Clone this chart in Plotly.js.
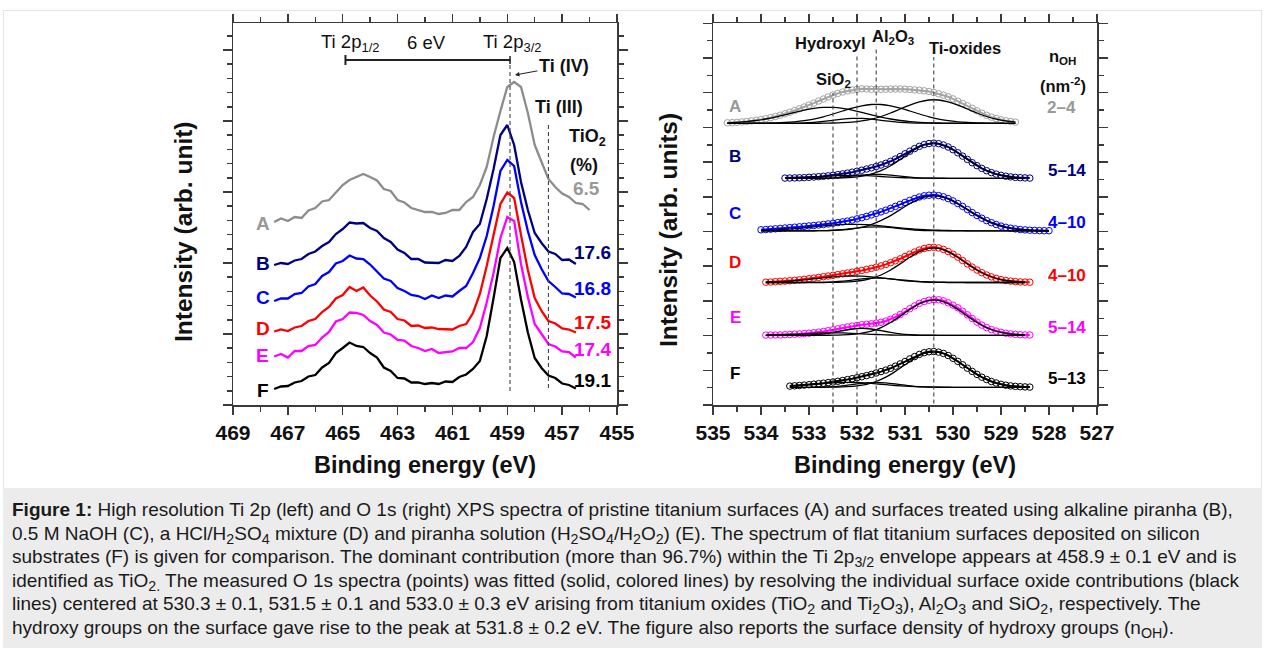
<!DOCTYPE html>
<html>
<head>
<meta charset="utf-8">
<script src="https://cdn.plot.ly/plotly-3.0.1.min.js"></script>
<style>
  html, body { margin: 0; padding: 0; background: #ffffff; }
  body { width: 1265px; height: 648px; position: relative; overflow: hidden; font-family: "Liberation Sans", Arial, Helvetica, sans-serif; }
  #frame { position: absolute; left: 3px; top: 10px; width: 1257px; height: 478px; border: 1px solid #e4e4e4; border-bottom: none; }
  #chart { position: absolute; left: 0; top: 0; width: 1265px; height: 488px; }
  #cap { position: absolute; left: 3px; top: 488px; width: 1259px; height: 160px; background: #ececec; color: #1a1a1a;
         font-size: 19px; line-height: 23.5px; padding: 10px 0 0 9px; white-space: nowrap; box-sizing: border-box; overflow: hidden; }
  #cap sub { font-size: 75%; line-height: 0; vertical-align: -0.3em; }
</style>
</head>
<body>
<div id="frame"></div>
<div id="chart"></div>
<div id="cap">
<b>Figure 1:</b> High resolution Ti 2p (left) and O 1s (right) XPS spectra of pristine titanium surfaces (A) and surfaces treated using alkaline piranha (B),<br>
0.5 M NaOH (C), a HCl/H<sub>2</sub>SO<sub>4</sub> mixture (D) and piranha solution (H<sub>2</sub>SO<sub>4</sub>/H<sub>2</sub>O<sub>2</sub>) (E). The spectrum of flat titanium surfaces deposited on silicon<br>
substrates (F) is given for comparison. The dominant contribution (more than 96.7%) within the Ti 2p<sub>3/2</sub> envelope appears at 458.9 ± 0.1 eV and is<br>
identified as TiO<sub>2.</sub> The measured O 1s spectra (points) was fitted (solid, colored lines) by resolving the individual surface oxide contributions (black<br>
lines) centered at 530.3 ± 0.1, 531.5 ± 0.1 and 533.0 ± 0.3 eV arising from titanium oxides (TiO<sub>2</sub> and Ti<sub>2</sub>O<sub>3</sub>), Al<sub>2</sub>O<sub>3</sub> and SiO<sub>2</sub>, respectively. The<br>
hydroxy groups on the surface gave rise to the peak at 531.8 ± 0.2 eV. The figure also reports the surface density of hydroxy groups (n<sub>OH</sub>).
</div>
<script>
// ---------------- DATA: Ti 2p (left panel) ----------------
const beTi = [467.5,467.25,467,466.75,466.5,466.25,466,465.75,465.5,465.25,465,464.75,464.5,464.25,464,463.75,463.5,463.25,463,462.75,462.5,462.25,462,461.75,461.5,461.25,461,460.75,460.5,460.25,460,459.75,459.5,459.25,459,458.75,458.5,458.25,458,457.75,457.5,457.25,457,456.75,456.5,456.25,456];
const tiA = [183,186.5,184,188,187,194.5,197,203.5,205,212.5,220,225,228,231,228,224.5,216,214,205,202.5,197,195,193,193,191,192,195,195,203,208,220,238,268,294,318,323,318,292,260,243,226,218,211.5,208,202,201,195];
const tiB = [140,142,141,144.5,146,151,153.5,159,163,171,176,182.5,181.5,182,177,174,167,163,155.5,152,146,146,142.5,142.5,142,145,144,149,158,173,181,206,236,270,280,260,223,195,172,162,153.5,151,145,145.5,141];
const tiC = [104,106.5,106.5,111,112,118.5,121,129,133,141.5,144,149.5,146.5,146,140.5,134,126.5,124,117,114,110,109,106,109.5,107,109.5,108.5,114,119,132,147,169,199,234,245,239,203,174,150,136,124,118,111.5,111,107.5];
const tiD = [73.5,75.5,74,77.5,79,84,86,93,98,106.5,110,118,114,117.5,109.5,103.5,95.5,93,86,84.5,79,79.5,77,77.5,76,76,75.5,79,81,92,111,139,169,201,212.5,207,170,135,107,94,84,81.5,76.5,75.5,72.5];
const tiE = [48.5,51,47.5,54,54,59,60,67.5,73,83.5,86,92.5,92,90,84,80,72.5,70.5,65,64.5,59,57,54,56,52,53,53.5,57,57,63,77,102.5,132,167,188,184,141,108,81,71,61,58.5,53.5,53,47.5];
const tiF = [16,18.5,19,22.5,24,28.5,30,37.5,42,52,57,62.5,59,58,52,47.5,37.5,34,27,26.5,22.5,22.5,21,22,21,23.5,23,28,30.5,36,44,69,107,147,157,143,105.5,72.5,47,37,29.5,27,21.5,20,16.5];
const sampleNames = ['A','B','C','D','E','F'];
const tiO2Pct = ['6.5','17.6','16.8','17.5','17.4','19.1'];

// ---------------- DATA: O 1s (right panel) ----------------
const beO = [534.7,534.6,534.5,534.4,534.3,534.2,534.1,534.0,533.9,533.8,533.7,533.6,533.5,533.4,533.3,533.2,533.1,533.0,532.9,532.8,532.7,532.6,532.5,532.4,532.3,532.2,532.1,532.0,531.9,531.8,531.7,531.6,531.5,531.4,531.3,531.2,531.1,531.0,530.9,530.8,530.7,530.6,530.5,530.4,530.3,530.2,530.1,530.0,529.9,529.8,529.7,529.6,529.5,529.4,529.3,529.2,529.1,529.0,528.9,528.8,528.7,528.6,528.5,528.4,528.3,528.2,528.1,528.0];
const startO = [534.7, 533.5, 534.0, 533.9, 533.9, 533.4];
const baselineO = [281.7, 226.7, 174.2, 122.5, 69.7, 17.7];
const nOH = ['2–4','5–14','4–10','4–10','5–14','5–13'];
// measured points (0.1 eV steps, height above each spectrum's baseline)
const oA = [0.5,0.7,1.0,1.4,1.8,2.4,3.0,3.8,4.6,5.6,6.8,8.1,9.5,11.1,12.8,14.5,16.3,18.2,20.2,22.3,24.3,26.4,28.3,29.9,31.3,32.4,33.3,33.9,34.5,34.3,34.0,34.0,34.0,34.1,34.2,34.3,34.3,34.1,33.8,33.4,33.0,32.5,31.8,30.7,29.5,28.1,26.5,24.4,22.0,19.8,17.5,15.0,12.5,10.1,8.0,6.2,4.8,3.5,2.5,1.8,1.2];
const oB = [0.2,0.3,0.4,0.5,0.7,1.0,1.3,1.6,2.0,2.5,3.0,3.7,4.4,5.2,6.1,7.1,8.1,9.3,10.5,11.8,13.3,15.0,17.0,19.3,21.8,24.5,27.1,29.7,32.0,33.7,34.8,35.2,34.6,33.3,31.3,28.6,25.5,22.2,18.9,15.6,12.6,9.9,7.6,5.7,4.2,3.0,2.1,1.4,0.9,0.6,0.4,0.2];
const oC = [1.0,1.3,1.6,2.0,2.4,2.8,3.2,3.6,4.0,4.4,4.9,5.3,5.8,6.3,6.9,7.5,8.2,8.9,9.7,10.7,11.9,13.1,14.4,15.9,17.4,18.9,20.6,22.4,24.4,26.4,28.4,30.4,32.2,33.8,35.0,35.6,35.8,35.2,34.0,32.2,29.9,27.3,24.4,21.3,18.2,15.3,12.6,10.2,8.1,6.3,4.7,3.5,2.6,1.9,1.3,0.9,0.6,0.4,0.2,0.1,0.1];
const oD = [0.3,0.5,0.8,1.1,1.4,1.8,2.2,2.7,3.2,3.8,4.4,5.1,5.8,6.5,7.2,7.9,8.7,9.5,10.3,11.2,12.1,13.1,14.1,15.3,16.6,18.1,19.8,21.7,23.7,26.0,28.3,30.5,32.5,34.0,35.0,35.2,34.6,33.1,31.0,28.3,25.3,22.0,18.6,15.4,12.5,9.8,7.5,5.6,4.1,2.9,2.0,1.4,0.9,0.6,0.4,0.3];
const oE = [0.2,0.3,0.3,0.4,0.6,0.8,1.1,1.4,1.7,2.1,2.6,3.2,3.8,4.6,5.5,6.5,7.5,8.4,9.2,9.9,10.6,11.0,11.5,12.2,13.0,14.3,16.0,18.2,20.8,23.7,26.6,29.4,31.9,33.8,35.1,35.7,35.6,34.5,32.5,30.2,27.5,24.1,20.5,16.8,13.2,10.2,7.7,5.7,4.2,3.0,2.1,1.4,0.9,0.6,0.4,0.3];
const oF = [1.2,1.5,1.8,2.2,2.6,3.1,3.6,4.1,4.7,5.3,6.0,6.8,7.7,8.6,9.6,10.6,11.7,12.9,14.3,15.7,17.2,19.0,21.1,23.4,25.8,28.4,30.7,32.9,34.6,35.5,35.8,35.2,33.9,31.8,29.0,25.9,22.5,19.1,15.9,12.9,10.1,7.8,5.8,4.3,3.0,2.1,1.4,0.9,0.6,0.4,0.2];
// fitted components (0.2 eV steps from each spectrum's start)
const aSiO2 = [0.5,1.0,1.7,2.8,4.3,6.2,8.5,10.9,13.2,14.9,15.9,15.9,14.9,13.2,10.9,8.5,6.2,4.3,2.8,1.7,1.0,0.5,0.3,0.1,0,0,0,0,0,0,0];
const aOH   = [0,0,0,0,0,0,0.1,0.2,0.4,1.0,1.9,3.0,4.2,4.9,4.9,4.2,3.0,1.9,1.0,0.4,0.2,0.1,0,0,0,0,0,0,0,0,0];
const aAl   = [0,0,0,0.1,0.2,0.4,0.8,1.5,2.6,4.2,6.5,9.3,12.3,15.2,17.5,18.8,18.8,17.5,15.2,12.3,9.3,6.5,4.2,2.6,1.5,0.8,0.4,0.2,0.1,0,0];
const aTi   = [0,0,0,0,0,0,0,0,0,0,0.1,0.3,0.6,1.2,2.4,4.2,6.8,10.3,14.3,18.2,21.4,23.3,23.3,21.4,18.2,14.3,10.3,6.8,4.2,2.4,1.2];
const bTi  = [0,0,0,0,0,0.1,0.4,0.9,2.1,4.2,7.6,12.6,18.9,25.5,31.3,34.5,34.5,31.3,25.5,18.9,12.6,7.6,4.2,2.1,0.9,0.4];
const bAl  = [0,0,0,0.1,0.2,0.5,1.2,2.2,3.2,3.9,3.9,3.2,2.2,1.2,0.5,0.2,0.1,0,0,0,0,0,0,0,0,0];
const bOH  = [0.2,0.4,0.7,1.2,1.8,2.4,2.8,3.0,2.8,2.4,1.8,1.2,0.7,0.4,0.2,0.1,0,0,0,0,0,0,0,0,0,0];
const cTi  = [0,0,0,0,0,0,0.1,0.2,0.6,1.3,2.6,4.7,8.1,12.6,18.2,24.3,29.7,33.6,35,33.6,29.7,24.3,18.2,12.6,8.1,4.7,2.6,1.3,0.6,0.2,0.1];
const cAl  = [0,0,0,0,0,0,0.1,0.3,0.8,1.6,2.7,3.6,4.0,3.6,2.7,1.6,0.8,0.3,0.1,0,0,0,0,0,0,0,0,0,0,0,0];
const cOH  = [0.4,0.7,1.1,1.7,2.5,3.5,4.4,5.3,6.1,6.4,6.4,6.1,5.3,4.4,3.5,2.5,1.7,1.1,0.7,0.4,0.2,0.1,0,0,0,0,0,0,0,0,0];
const dTi  = [0,0,0,0,0,0,0,0.1,0.4,0.9,2.0,4.1,7.5,12.5,18.6,25.2,30.8,34.1,34.1,30.8,25.2,18.6,12.5,7.5,4.1,2.0,0.9,0.4];
const dAl  = [0,0,0,0,0,0.1,0.2,0.6,1.3,2.4,3.6,4.4,4.4,3.6,2.4,1.3,0.6,0.2,0.1,0,0,0,0,0,0,0,0,0];
const dOH  = [0.4,0.7,1.1,1.8,2.7,3.7,4.7,5.6,6.3,6.5,6.3,5.6,4.7,3.7,2.7,1.8,1.1,0.7,0.4,0.2,0.1,0,0,0,0,0,0,0];
const eTi  = [0,0,0,0,0,0,0,0.1,0.4,0.9,2.1,4.2,7.7,12.8,19.2,25.9,31.7,35.0,35.0,31.7,25.9,19.2,12.8,7.7,4.2,2.1,0.9,0.4];
const eOH  = [0,0,0,0.1,0.2,0.6,1.4,2.9,4.7,6.3,7.0,6.3,4.7,2.9,1.4,0.6,0.2,0.1,0,0,0,0,0,0,0,0,0,0];
const eSiO2= [0.2,0.3,0.6,1.0,1.5,2.0,2.4,2.5,2.4,2.0,1.5,1.0,0.6,0.3,0.2,0.1,0,0,0,0,0,0,0,0,0,0,0,0];
const fTi  = [0,0,0,0,0.1,0.2,0.6,1.4,3.0,5.8,10.1,15.9,22.5,29.0,33.8,35.5,33.8,29.0,22.5,15.9,10.1,5.8,3.0,1.4,0.6,0.2];
const fAl  = [0,0,0,0.1,0.4,1.0,2.1,3.4,4.5,5.0,4.5,3.4,2.1,1.0,0.4,0.1,0,0,0,0,0,0,0,0,0,0];
const fOH  = [1.2,1.8,2.6,3.5,4.2,4.8,5.0,4.8,4.2,3.5,2.6,1.8,1.2,0.7,0.4,0.2,0.1,0,0,0,0,0,0,0,0,0];

// ---------------- DRAWING ----------------
const W = 1265, H = 488;
const FONT = '"Liberation Sans", Arial, Helvetica, sans-serif';
const colTi = ['#8c8c8c', '#000080', '#0000ff', '#ff0000', '#ff00ff', '#000000'];
const colO  = ['#a3a3a3', '#000080', '#0000ff', '#ff0000', '#ff00ff', '#000000'];
const colLbl = ['#999999', '#000080', '#0000ff', '#ff0000', '#ff00ff', '#000000'];
const tiSeries = [tiA, tiB, tiC, tiD, tiE, tiF];
const oSeries = [oA, oB, oC, oD, oE, oF];
const oComps = [[aSiO2, aOH, aAl, aTi], [bTi, bAl, bOH], [cTi, cAl, cOH], [dTi, dAl, dOH], [eTi, eOH, eSiO2], [fTi, fAl, fOH]];

const traces = [];
tiSeries.forEach((ys, k) => {
  traces.push({ x: beTi.slice(0, ys.length), y: ys, xaxis: 'x', yaxis: 'y', mode: 'lines',
    line: { color: colTi[k], width: 2.3 }, hoverinfo: 'skip', name: sampleNames[k] });
});
oSeries.forEach((ys, k) => {
  const i0 = beO.findIndex(v => Math.abs(v - startO[k]) < 1e-6);
  const xs = beO.slice(i0, i0 + ys.length);
  traces.push({ x: xs, y: ys.map(v => v + baselineO[k]), xaxis: 'x2', yaxis: 'y2', mode: 'lines+markers',
    line: { color: colO[k], width: 2 }, marker: { symbol: 'circle-open', size: 6.5, color: colO[k], line: { width: 1, color: colO[k] } },
    hoverinfo: 'skip', name: sampleNames[k] });
});
oComps.forEach((comps, k) => {
  const i0 = beO.findIndex(v => Math.abs(v - startO[k]) < 1e-6);
  const xsAll = beO.slice(i0).filter((_, j) => j % 2 === 0);
  comps.forEach(c => {
    traces.push({ x: xsAll.slice(0, c.length), y: c.map(v => v + baselineO[k]), xaxis: 'x2', yaxis: 'y2', mode: 'lines',
      line: { color: '#000000', width: 1.3, shape: 'spline', smoothing: 0.6 }, hoverinfo: 'skip' });
  });
});

const pxX = px => px / W, pxY = py => 1 - py / H;
const axCommon = { showline: true, linecolor: '#3a3a3a', linewidth: 1.5, mirror: 'ticks', ticks: 'outside', tickcolor: '#3a3a3a',
  tickwidth: 1.5, showgrid: false, zeroline: false, fixedrange: true };
const tickFont = { family: FONT, size: 21, color: '#111', weight: 'bold' };
const yDom = [pxY(405), pxY(23)];

const layout = {
  width: W, height: H, margin: { l: 0, r: 0, t: 0, b: 0 }, paper_bgcolor: 'rgba(0,0,0,0)', plot_bgcolor: 'rgba(0,0,0,0)',
  showlegend: false, font: { family: FONT, color: '#111' },
  xaxis: Object.assign({}, axCommon, { domain: [pxX(233), pxX(617)], range: [469, 455], tick0: 455, dtick: 2, ticklen: 8,
    tickfont: tickFont, anchor: 'y', minor: { dtick: 1, ticks: 'outside', ticklen: 5, tickcolor: '#3a3a3a', tickwidth: 1.5, showgrid: false } }),
  yaxis: Object.assign({}, axCommon, { domain: yDom, range: [0, 382], tick0: 0, dtick: 71, ticklen: 9, showticklabels: false, anchor: 'x',
    minor: { dtick: 14.2, ticks: 'outside', ticklen: 5, tickcolor: '#3a3a3a', tickwidth: 1.5, showgrid: false } }),
  xaxis2: Object.assign({}, axCommon, { domain: [pxX(713), pxX(1097)], range: [535, 527], tick0: 527, dtick: 1, ticklen: 8,
    tickfont: tickFont, anchor: 'y2', minor: { dtick: 0.5, ticks: 'outside', ticklen: 5, tickcolor: '#3a3a3a', tickwidth: 1.5, showgrid: false } }),
  yaxis2: Object.assign({}, axCommon, { domain: yDom, range: [0, 382], tick0: 0, dtick: 34.7, ticklen: 9, showticklabels: false, anchor: 'x2',
    minor: { dtick: 17.35, ticks: 'outside', ticklen: 5, tickcolor: '#3a3a3a', tickwidth: 1.5, showgrid: false } }),
  shapes: [], annotations: []
};

const dash = { color: '#444', width: 1.1, dash: '4px,3px' };
// left panel guides
layout.shapes.push({ type: 'line', xref: 'x', yref: 'y', x0: 458.9, x1: 458.9, y0: 14, y1: 345, line: dash });
layout.shapes.push({ type: 'line', xref: 'x', yref: 'y', x0: 457.5, x1: 457.5, y0: 17, y1: 282, line: dash });
layout.shapes.push({ type: 'line', xref: 'x', yref: 'y', x0: 464.9, x1: 458.9, y0: 345, y1: 345, line: { color: '#222', width: 2 } });
layout.shapes.push({ type: 'line', xref: 'x', yref: 'y', x0: 464.9, x1: 464.9, y0: 340, y1: 350, line: { color: '#222', width: 2 } });
layout.shapes.push({ type: 'line', xref: 'x', yref: 'y', x0: 458.9, x1: 458.9, y0: 341, y1: 349, line: { color: '#222', width: 1.5 } });
// right panel guides
[[532.5, 312], [532.0, 350], [531.6, 357], [530.4, 348]].forEach(g => {
  layout.shapes.push({ type: 'line', xref: 'x2', yref: 'y2', x0: g[0], x1: g[0], y0: 1.5, y1: g[1], line: dash });
});

const ann = (xref, yref, x, y, text, size, color, extra) => Object.assign({ xref, yref, x, y, text, showarrow: false,
  xanchor: 'center', yanchor: 'middle', font: { family: FONT, size, color: color || '#111' } }, extra || {});
const A = layout.annotations;
// left panel texts
A.push(ann('x', 'y', 464.73, 362, 'Ti 2p<sub>1/2</sub>', 18.5));
A.push(ann('x', 'y', 461.93, 362, '6 eV', 18.5));
A.push(ann('x', 'y', 458.83, 362, 'Ti 2p<sub>3/2</sub>', 18.5));
A.push({ xref: 'x', yref: 'y', x: 458.72, y: 330, text: '<b>Ti (IV)</b>', showarrow: true, ax: 49, ay: -9, arrowhead: 2, arrowsize: 0.9,
  arrowwidth: 1, arrowcolor: '#222', standoff: 0, font: { family: FONT, size: 18, color: '#111' } });
A.push(ann('x', 'y', 457.1, 298, '<b>Ti (III)</b>', 18));
A.push(ann('x', 'y', 456.06, 268, '<b>TiO<sub>2</sub></b>', 18));
A.push(ann('x', 'y', 456.2, 240, '<b>(%)</b>', 18));
const pctPos = [[456.1, 217], [455.88, 153], [455.88, 117], [455.88, 83], [455.88, 56], [455.88, 25]];
const letterTiY = [182, 142, 108, 77, 50, 15];
sampleNames.forEach((s, k) => {
  A.push(ann('x', 'y', 467.91, letterTiY[k], '<b>' + s + '</b>', 19, colLbl[k]));
  A.push(ann('x', 'y', pctPos[k][0], pctPos[k][1], '<b>' + tiO2Pct[k] + '</b>', 19, colLbl[k]));
});
// right panel texts
A.push(ann('x2', 'y2', 532.56, 362, '<b>Hydroxyl</b>', 16.5));
A.push(ann('x2', 'y2', 531.25, 368, '<b>Al<sub>2</sub>O<sub>3</sub></b>', 16.5));
A.push(ann('x2', 'y2', 529.75, 357, '<b>Ti-oxides</b>', 16.5));
A.push(ann('x2', 'y2', 532.5, 325, '<b>SiO<sub>2</sub></b>', 16.5));
A.push(ann('x2', 'y2', 527.71, 348, '<b>n<sub>OH</sub></b>', 16.5));
A.push(ann('x2', 'y2', 527.71, 320, '<b>(nm<sup>-2</sup>)</b>', 16.5));
const letterOY = [298, 249, 192, 143, 88, 32];
const nohY = [297, 235, 183, 130, 78, 27];
sampleNames.forEach((s, k) => {
  A.push(ann('x2', 'y2', 534.54, letterOY[k], '<b>' + s + '</b>', 17, colLbl[k]));
  A.push(ann('x2', 'y2', k === 0 ? 527.73 : 527.63, nohY[k], '<b>' + nOH[k] + '</b>', 17, colLbl[k]));
});
// axis titles
A.push(ann('paper', 'paper', pxX(425), pxY(465), '<b>Binding energy (eV)</b>', 23.5));
A.push(ann('paper', 'paper', pxX(905), pxY(465), '<b>Binding energy (eV)</b>', 23.5));
A.push(ann('paper', 'paper', pxX(183), pxY(232), '<b>Intensity (arb. unit)</b>', 24.5, '#111', { textangle: -90 }));
A.push(ann('paper', 'paper', pxX(668), pxY(230), '<b>Intensity (arb. units)</b>', 24.5, '#111', { textangle: -90 }));

Plotly.newPlot('chart', traces, layout, { displayModeBar: false, staticPlot: true });
</script>
</body>
</html>
